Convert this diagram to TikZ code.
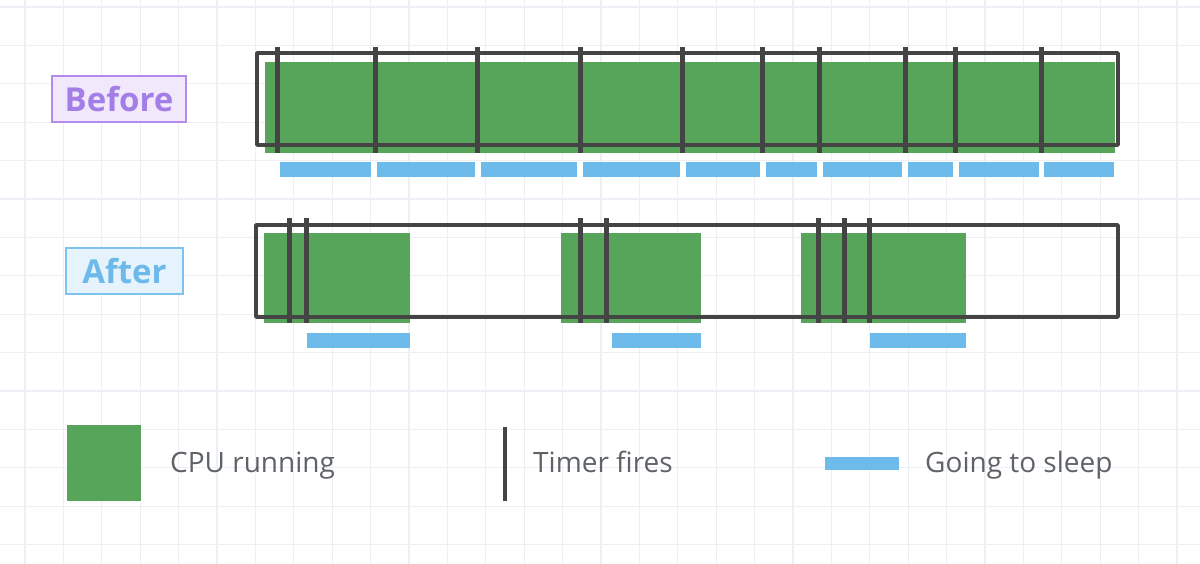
\documentclass[tikz,border=0pt]{standalone}
\usepackage{fontspec}
\setmainfont{Open Sans}
\definecolor{cpugreen}{HTML}{57A55B}
\definecolor{sleepblue}{HTML}{6CBBEB}
\definecolor{darkl}{HTML}{444444}
\definecolor{gridc}{HTML}{EDEFF5}
\definecolor{txtgray}{HTML}{5F6368}
\definecolor{purpb}{HTML}{B38BEA}
\definecolor{purpf}{HTML}{F1E8FC}
\definecolor{purpt}{HTML}{A27EE6}
\definecolor{blueb}{HTML}{7DC3EE}
\definecolor{bluef}{HTML}{E6F3FC}
\definecolor{bluet}{HTML}{6DB9EA}
\begin{document}
\begin{tikzpicture}[x=1pt,y=-1pt,
  gridline/.style={draw=gridc, line width=1.3pt},
  cpu/.style={fill=cpugreen},
  frame/.style={draw=darkl, line width=3.5pt, line join=round},
  timer/.style={draw=darkl, line width=5pt},
  sleep/.style={fill=sleepblue},
  legendtext/.style={anchor=base west, inner sep=0pt, text=txtgray, font=\fontsize{28}{31}\selectfont},
  tag/.style={line width=2.5pt, inner sep=0pt, font=\bfseries\fontsize{33}{37}\selectfont}
]
\useasboundingbox (0,0) rectangle (1200,564);
\fill[white] (0,0) rectangle (1200,564);
\foreach \i in {0,...,30} \draw[gridline] ({25+38.4*\i},0) -- ({25+38.4*\i},564);
\foreach \j in {0,...,14} \draw[gridline] (0,{7+38.4*\j}) -- (1200,{7+38.4*\j});

% Before row
\fill[cpu] (265,62) rectangle (1115,153);
\draw[frame] (257,53) rectangle (1118,145);
\foreach \x in {277,375,477,580,682,762,819,905,955,1041}
  \draw[timer] (\x,47) -- (\x,153);
\foreach \a/\b in {280/371,377/475,481/577,583/680,686/760,766/817,823/902,908/953,959/1039,1044/1114}
  \fill[sleep] (\a,162) rectangle (\b,177);

% After row
\foreach \a/\b in {264/410,561/701,801/966}
  \fill[cpu] (\a,233) rectangle (\b,323);
\draw[frame] (256,225) rectangle (1118,317);
\foreach \x in {289,306,580,606,818,844,869}
  \draw[timer] (\x,218) -- (\x,323);
\foreach \a/\b in {307/410,612/701,870/966}
  \fill[sleep] (\a,333) rectangle (\b,348);

% Labels
\node[tag, draw=purpb, fill=purpf, text=purpt, minimum width=134pt, minimum height=46pt] (before) at (119,99) {Before};
\node[tag, draw=blueb, fill=bluef, text=bluet, minimum width=117pt, minimum height=46pt] (after) at (124.5,271) {After};

% Legend
\fill[cpu] (67,425) rectangle (141,501);
\draw[darkl, line width=4pt] (505,427) -- (505,501);
\fill[sleep] (825,457) rectangle (899,470);
\node[legendtext] (cpulbl) at (170,472) {CPU running};
\node[legendtext] (timerlbl) at (533,472) {Timer fires};
\node[legendtext] (sleeplbl) at (925,472) {Going to sleep};
\end{tikzpicture}
\end{document}
